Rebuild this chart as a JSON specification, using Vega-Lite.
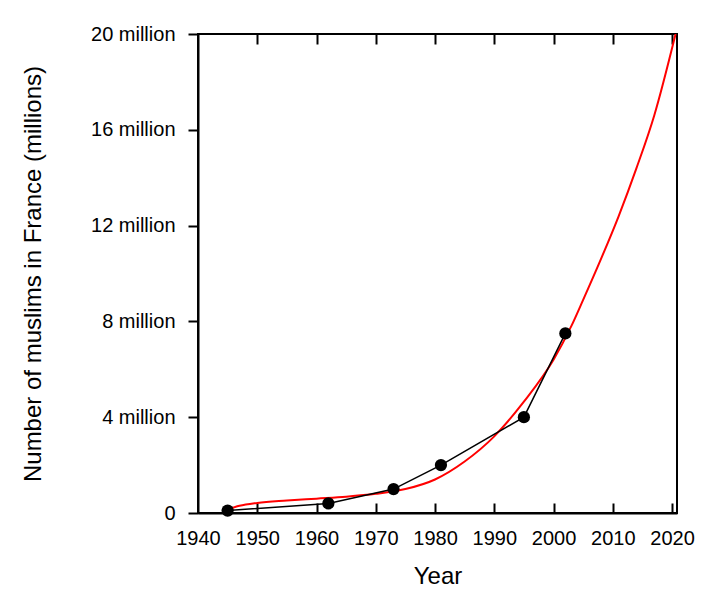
{
  "$schema": "https://vega.github.io/schema/vega-lite/v6.json",
  "width": 479,
  "height": 479,
  "autosize": "none",
  "padding": {"left": 198, "top": 34, "right": 38, "bottom": 90},
  "background": "white",
  "config": {
    "view": {"stroke": "black", "strokeWidth": 2},
    "font": "Liberation Sans",
    "axis": {
      "grid": false,
      "domainColor": "black",
      "domainWidth": 2,
      "tickColor": "black",
      "tickWidth": 2,
      "labelColor": "black",
      "titleColor": "black",
      "labelFont": "Liberation Sans",
      "titleFont": "Liberation Sans",
      "labelFontSize": 20,
      "titleFontSize": 24,
      "titleFontWeight": "normal",
      "labelFlush": false,
      "labelOverlap": false
    }
  },
  "datasets": {
    "observed": [
      {"year": 1945, "muslims": 0.1},
      {"year": 1962, "muslims": 0.4},
      {"year": 1973, "muslims": 1.0},
      {"year": 1981, "muslims": 2.0},
      {"year": 1995, "muslims": 4.0},
      {"year": 2002, "muslims": 7.5}
    ],
    "fit": [
      {"year": 1945, "muslims": 0.15},
      {"year": 1947, "muslims": 0.3},
      {"year": 1950, "muslims": 0.42},
      {"year": 1955, "muslims": 0.52},
      {"year": 1960, "muslims": 0.6},
      {"year": 1965, "muslims": 0.68},
      {"year": 1970, "muslims": 0.8},
      {"year": 1975, "muslims": 1.0},
      {"year": 1980, "muslims": 1.4},
      {"year": 1985, "muslims": 2.15},
      {"year": 1990, "muslims": 3.2},
      {"year": 1995, "muslims": 4.65},
      {"year": 2000, "muslims": 6.4},
      {"year": 2003, "muslims": 7.8},
      {"year": 2005, "muslims": 8.9},
      {"year": 2008, "muslims": 10.6},
      {"year": 2011, "muslims": 12.4},
      {"year": 2014, "muslims": 14.4},
      {"year": 2017, "muslims": 16.6},
      {"year": 2020.6, "muslims": 20}
    ]
  },
  "resolve": {"axis": {"x": "independent"}},
  "layer": [
    {
      "data": {"name": "fit"},
      "mark": {"type": "line", "color": "red", "strokeWidth": 2, "interpolate": "monotone", "clip": true},
      "encoding": {
        "x": {
          "field": "year",
          "type": "quantitative",
          "title": "Year",
          "scale": {"domain": [1940, 2020.84], "nice": false, "zero": false},
          "axis": {
            "orient": "bottom",
            "values": [1940, 1950, 1960, 1970, 1980, 1990, 2000, 2010, 2020],
            "format": "d",
            "ticks": false,
            "labelPadding": 15,
            "titlePadding": 16
          }
        },
        "y": {
          "field": "muslims",
          "type": "quantitative",
          "title": "Number of muslims in France (millions)",
          "scale": {"domain": [0, 20], "nice": false},
          "axis": {
            "values": [0, 4, 8, 12, 16, 20],
            "labelExpr": "datum.value == 0 ? '0' : datum.value + ' million'",
            "tickSize": 10,
            "labelPadding": 13,
            "titlePadding": 45
          }
        }
      }
    },
    {
      "data": {"name": "observed"},
      "mark": {"type": "line", "color": "black", "strokeWidth": 1.5},
      "encoding": {
        "x": {
          "field": "year",
          "type": "quantitative",
          "axis": {
            "orient": "bottom",
            "values": [1950, 1960, 1970, 1980, 1990, 2000, 2010, 2020],
            "offset": -10,
            "tickSize": 10,
            "labels": false,
            "domain": false,
            "title": null
          }
        },
        "y": {"field": "muslims", "type": "quantitative"}
      }
    },
    {
      "data": {"name": "observed"},
      "mark": {"type": "circle", "color": "black", "opacity": 1, "size": 150},
      "encoding": {
        "x": {
          "field": "year",
          "type": "quantitative",
          "axis": {
            "orient": "top",
            "values": [1950, 1960, 1970, 1980, 1990, 2000, 2010, 2020],
            "offset": -10,
            "tickSize": 10,
            "labels": false,
            "domain": false,
            "title": null
          }
        },
        "y": {"field": "muslims", "type": "quantitative"}
      }
    }
  ]
}
